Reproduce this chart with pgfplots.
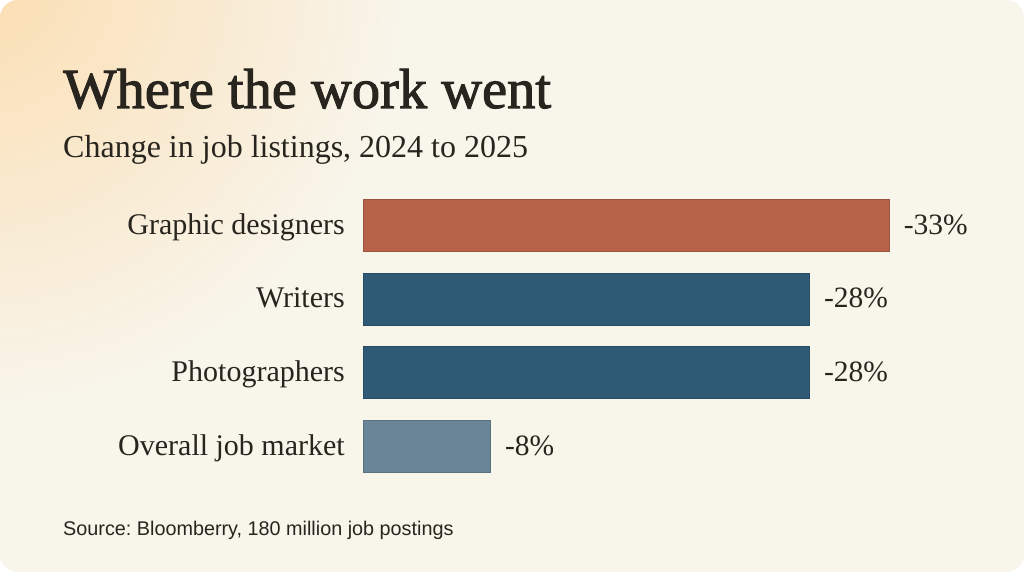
\documentclass[border=0pt]{standalone}
\usepackage{fontspec}
\setmainfont{Liberation Serif}
\newfontfamily\titlefont[FakeBold=1.8]{Liberation Serif}
\newfontfamily\srcfont{Liberation Sans}
\usepackage{pgfplots}
\pgfplotsset{compat=1.18}
\definecolor{bg}{HTML}{F8F5EB}
\definecolor{glow}{HTML}{FBDDB0}
\definecolor{rust}{HTML}{B6634A}
\definecolor{navy}{HTML}{2E5A75}
\definecolor{slate}{HTML}{6A8597}
\definecolor{ink}{HTML}{28241E}
\begin{document}
\frenchspacing
\begin{tikzpicture}
\useasboundingbox (0pt,0pt) rectangle (1024pt,-572pt);
\fill[white] (0pt,0pt) rectangle (1024pt,-572pt);
\begin{scope}
\clip[rounded corners=18pt] (0pt,0pt) rectangle (1024pt,-572pt);
\fill[bg] (0pt,0pt) rectangle (1024pt,-572pt);
\shade[inner color=glow, outer color=bg] (-30pt,30pt) circle (440pt);
\end{scope}
\node[anchor=base west, inner sep=0pt, text=ink, font=\titlefont\fontsize{56.5}{62}\selectfont] at (63pt,-108pt) {Where the work went};
\node[anchor=base west, inner sep=0pt, text=ink, font=\fontsize{32}{38}\selectfont] at (63pt,-158pt) {Change in job listings, 2024 to 2025};
\node[anchor=base west, inner sep=0pt, text=ink, font=\srcfont\fontsize{19.8}{24}\selectfont] at (63pt,-535pt) {Source: Bloomberry, 180 million job postings};
\begin{axis}[at={(363pt,-188.7pt)}, anchor=north west, scale only axis,
  width=638pt, height=294.7pt, xmin=0, xmax=40, ymin=-0.5, ymax=3.5, y dir=reverse,
  axis line style={draw=none}, major tick length=0pt, xtick=\empty,
  ytick={0,1,2,3}, yticklabels={Graphic designers,Writers,Photographers,Overall job market},
  yticklabel style={anchor=base east, inner sep=0pt, yshift=-8.5pt, xshift=-18pt, font=\fontsize{30}{36}\selectfont, text=ink},
  xbar, bar width=52pt, bar shift=0pt, clip=false,
  nodes near coords, point meta=explicit symbolic,
  every node near coord/.append style={anchor=base west, inner sep=0pt, xshift=14pt, yshift=-8.5pt, font=\fontsize{29.5}{36}\selectfont, text=ink}]
\addplot[fill=rust, draw=rust!85!black, line width=0.8pt] coordinates {(33,0) [-33\%]};
\addplot[fill=navy, draw=navy!85!black, line width=0.8pt] coordinates {(28,1) [-28\%] (28,2) [-28\%]};
\addplot[fill=slate, draw=slate!85!black, line width=0.8pt] coordinates {(8,3) [-8\%]};
\end{axis}
\end{tikzpicture}
\end{document}
